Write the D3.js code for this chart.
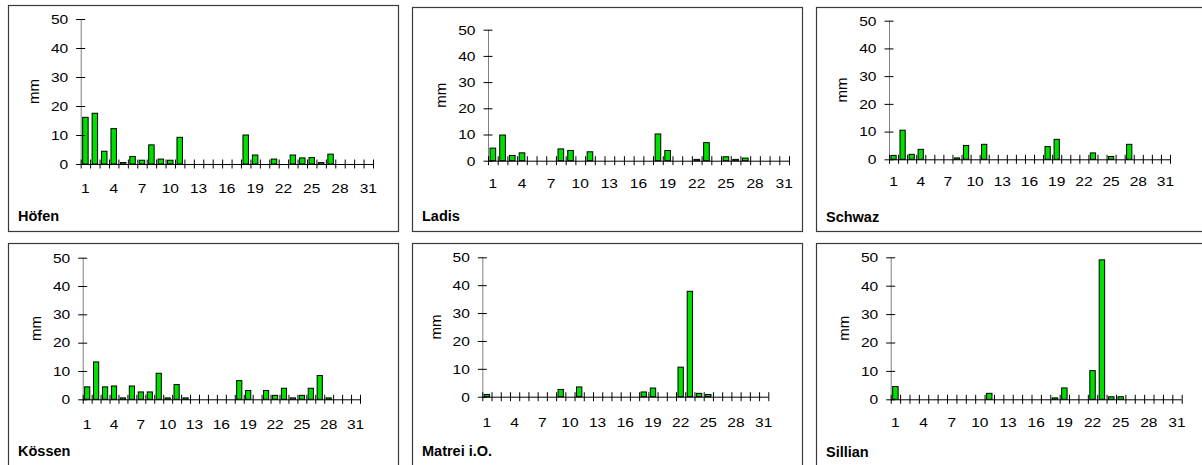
<!DOCTYPE html>
<html><head><meta charset="utf-8">
<script src="https://cdn.jsdelivr.net/npm/d3@7"></script>
<style>
body{margin:0;background:#fff}
svg{display:block}
text{font-family:"Liberation Sans",Arial,sans-serif;fill:#000}
</style>
</head><body>
<svg id="c" width="1202" height="465"></svg>
<script>
// ---- data ----
const days = d3.range(1, 32);
const xTickLabels = [1, 4, 7, 10, 13, 16, 19, 22, 25, 28, 31];
const yTicks = [0, 10, 20, 30, 40, 50];
const yLabel = "mm";
const stations = ["Höfen", "Ladis", "Schwaz", "Kössen", "Matrei i.O.", "Sillian"];

const hoefen  = [16.1,17.5,4.4,12.2,0.5,2.6,1.3,6.6,1.7,1.3,9.2,0,0,0,0,0,0,10.0,3.1,0,1.7,0,3.1,2.1,2.2,0.5,3.4,0,0,0,0];
const ladis   = [4.8,9.8,2.0,3.0,0,0,0,4.5,3.9,0,3.4,0,0,0,0,0,0,10.2,3.9,0,0,0.5,6.9,0,1.5,0.5,1.0,0,0,0,0];
const schwaz  = [1.4,10.5,1.8,3.6,0,0,0,0.5,5.0,0,5.4,0,0,0,0,0,0,4.6,7.2,0,0,0,2.3,0,1.0,0,5.4,0,0,0,0];
const koessen = [4.4,13.2,4.4,4.7,0.5,4.7,2.6,2.6,9.2,0.5,5.2,0.5,0,0,0,0,0,6.6,3.1,0,3.1,1.4,3.9,0.5,1.4,3.9,8.4,0.5,0,0,0];
const matrei  = [0.8,0,0,0,0,0,0,0,2.6,0,3.5,0,0,0,0,0,0,1.7,3.1,0,0,10.6,37.8,1.2,0.8,0,0,0,0,0,0];
const sillian = [4.5,0,0,0,0,0,0,0,0,0,2.1,0,0,0,0,0,0,0.5,4.0,0,0,10.1,49.1,0.9,0.9,0,0,0,0,0,0];
const series = [hoefen, ladis, schwaz, koessen, matrei, sillian];

// ---- layout (positions only) ----
const layout = [
  {bx:8.5,   by:5.5,   bw:390, bh:226, ax:80.7,  x1:373,    yTop:19,    y0:164,   labY:188,   titleY:216},
  {bx:412.5, by:7.5,   bw:390, bh:224, ax:488,   x1:789,    yTop:29.7,  y0:160.7, labY:183.3, titleY:216},
  {bx:816.5, by:7.5,   bw:400, bh:224, ax:889,   x1:1170,   yTop:20.7,  y0:159.3, labY:181.5, titleY:217},
  {bx:8.5,   by:243.5, bw:390, bh:240, ax:82.7,  x1:360,    yTop:257.7, y0:399.3, labY:424.5, titleY:451},
  {bx:412.5, by:243.5, bw:390, bh:240, ax:482.3, x1:768.3,  yTop:257.3, y0:396.7, labY:422,   titleY:451},
  {bx:816.5, by:243.5, bw:400, bh:240, ax:890.7, x1:1181.7, yTop:257.3, y0:399.3, labY:422.5, titleY:452}
];

const svg = d3.select("#c");
const STRETCH = 1.15;
function stretch(sel, k){
  sel.each(function(){
    const len = this.getComputedTextLength();
    d3.select(this).attr("textLength", len * k).attr("lengthAdjust", "spacingAndGlyphs");
  });
}

stations.forEach((name, i) => {
  const L = layout[i];
  const vals = series[i];
  const g = svg.append("g");

  g.append("rect")
    .attr("x", L.bx).attr("y", L.by).attr("width", L.bw).attr("height", L.bh)
    .attr("fill", "none").attr("stroke", "#3a3a3a").attr("stroke-width", 1.2);

  const x = d3.scaleBand().domain(days).range([L.ax, L.x1]).paddingInner(0.42).paddingOuter(0.21);
  const xb = d3.scaleLinear().domain([0.5, 31.5]).range([L.ax, L.x1]);
  const y = d3.scaleLinear().domain([0, 50]).range([L.y0, L.yTop]);

  // bars
  g.append("g").selectAll("rect").data(days).join("rect")
    .attr("x", d => x(d))
    .attr("width", x.bandwidth())
    .attr("y", d => y(vals[d - 1]))
    .attr("height", d => y(0) - y(vals[d - 1]))
    .attr("fill", "#00e000")
    .attr("stroke", "#000")
    .attr("stroke-width", 1)
    .attr("display", d => vals[d - 1] > 0 ? null : "none");

  // y axis
  const ya = g.append("g").attr("transform", `translate(${L.ax},0)`)
    .call(d3.axisLeft(y).tickValues(yTicks).tickSize(4.5).tickPadding(8));
  ya.select(".domain").attr("stroke", "#808080").attr("d", `M0.5,${L.yTop}V${L.y0}`);
  ya.selectAll(".tick line").attr("x1", -4.5).attr("x2", 4.5).attr("stroke", "#000");
  ya.selectAll(".tick text").attr("font-size", 13.5).style("font-family", '"Liberation Sans",Arial,sans-serif');
  stretch(ya.selectAll(".tick text"), STRETCH);

  // x axis: boundary ticks
  const xa = g.append("g").attr("transform", `translate(0,${L.y0})`)
    .call(d3.axisBottom(xb).tickValues(d3.range(0.5, 32, 1)).tickSize(4.5).tickFormat(""));
  xa.select(".domain").attr("stroke", "#000").attr("d", `M${L.ax},0.5H${L.x1}`);
  xa.selectAll(".tick line").attr("y1", -4.5).attr("y2", 4.5).attr("stroke", "#000");

  // x labels
  const xl = g.append("g").attr("transform", `translate(0,${L.labY})`)
    .call(d3.axisBottom(x).tickValues(xTickLabels).tickSize(0).tickPadding(0));
  xl.select(".domain").remove();
  xl.selectAll(".tick text").attr("font-size", 13.5).attr("dy", "0.35em").attr("y", 0)
    .style("font-family", '"Liberation Sans",Arial,sans-serif');
  stretch(xl.selectAll(".tick text"), STRETCH);

  // y label
  g.append("text")
    .attr("transform", `translate(${L.ax - 47},${(L.yTop + L.y0) / 2}) rotate(-90)`)
    .attr("text-anchor", "middle").attr("dy", "0.35em")
    .attr("font-size", 15)
    .text(yLabel);

  // title
  g.append("text")
    .attr("x", L.bx + 9.5).attr("y", L.titleY).attr("dy", "0.35em")
    .attr("font-size", 14.5).attr("font-weight", "bold")
    .text(name);
});
</script>
</body></html>
